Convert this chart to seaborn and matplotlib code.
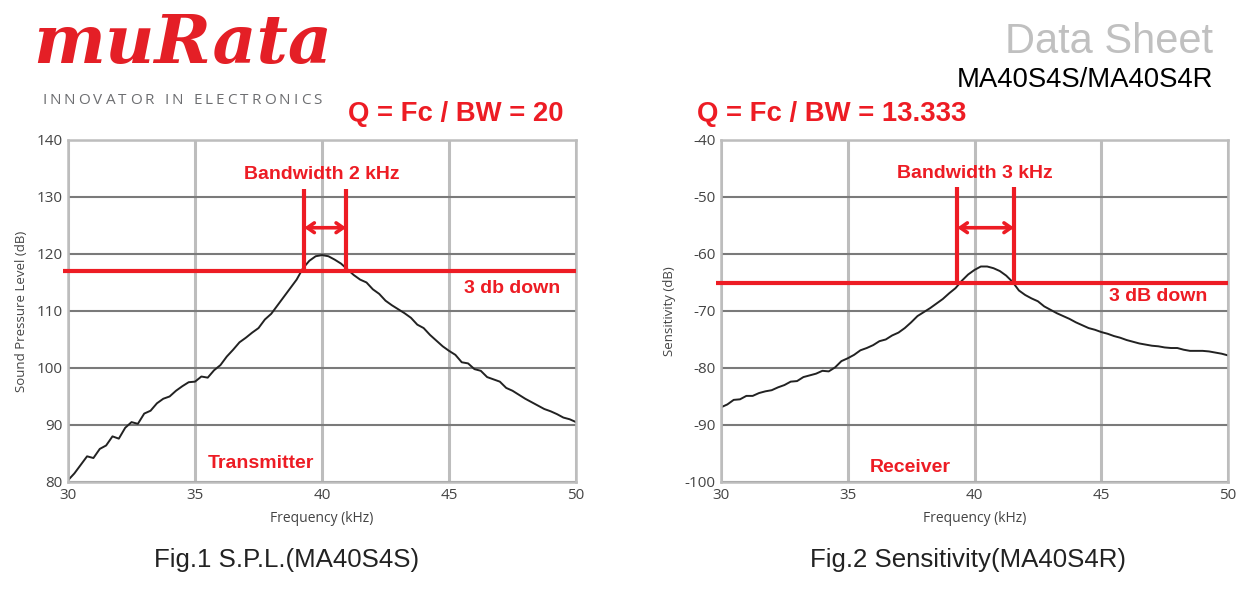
import numpy as np
import pandas as pd
import matplotlib
matplotlib.use("Agg")
import matplotlib.pyplot as plt
import seaborn as sns

# frequency axis (kHz), 0.25 kHz steps
freq = [30 + 0.25 * i for i in range(81)]

# Fig.1 transmitter sound pressure level (dB)
spl = [80.3, 81.5, 83.0, 84.5, 84.2, 85.8, 86.4, 88.0, 87.6, 89.5,
       90.5, 90.2, 92.0, 92.5, 93.8, 94.6, 95.0, 96.0, 96.8, 97.5,
       97.6, 98.5, 98.3, 99.6, 100.5, 102.0, 103.2, 104.5, 105.3, 106.2,
       107.0, 108.5, 109.5, 111.0, 112.5, 114.0, 115.5, 117.5, 118.8, 119.6,
       119.8, 119.6, 119.0, 118.3, 117.3, 116.3, 115.5, 115.0, 113.8, 113.0,
       111.8, 111.0, 110.3, 109.6, 108.8, 107.6, 107.0, 105.8, 104.8, 103.8,
       103.0, 102.3, 101.0, 100.8, 99.8, 99.5, 98.4, 98.0, 97.6, 96.5,
       96.0, 95.3, 94.6, 94.0, 93.4, 92.8, 92.4, 91.9, 91.3, 91.0, 90.5]

# Fig.2 receiver sensitivity (dB)
sens = [-86.9, -86.4, -85.6, -85.5, -84.9, -84.9, -84.4, -84.1, -83.9, -83.4,
        -83.0, -82.4, -82.3, -81.6, -81.3, -81.0, -80.5, -80.6, -79.9, -78.8,
        -78.3, -77.7, -76.9, -76.5, -76.0, -75.3, -75.0, -74.3, -73.8, -73.0,
        -72.0, -70.9, -70.2, -69.5, -68.7, -67.9, -66.9, -66.0, -64.7, -63.6,
        -62.8, -62.2, -62.2, -62.5, -63.0, -63.8, -64.9, -66.4, -67.2, -67.8,
        -68.3, -69.2, -69.8, -70.4, -70.9, -71.4, -72.0, -72.5, -73.0, -73.3,
        -73.7, -74.0, -74.4, -74.7, -75.1, -75.4, -75.7, -75.9, -76.1, -76.2,
        -76.4, -76.5, -76.5, -76.8, -77.0, -77.0, -77.0, -77.1, -77.3, -77.5, -77.8]

# annotation values
tx_level, tx_lo, tx_hi = 117.0, 39.3, 40.95
rx_level, rx_lo, rx_hi = -65.1, 39.32, 41.56

df_tx = pd.DataFrame({"freq": freq, "val": spl})
df_rx = pd.DataFrame({"freq": freq, "val": sens})

sns.set_style("white")
plt.rcParams["font.family"] = ["Open Sans", "DejaVu Sans"]
plt.rcParams["axes.unicode_minus"] = False

RED = "#ed1c24"
fig = plt.figure(figsize=(12.55, 5.9), dpi=100)

def style_axes(ax, ylim, ylabel):
    ax.set_xlim(30, 50)
    ax.set_ylim(*ylim)
    ax.set_xticks([30, 35, 40, 45, 50])
    ax.set_yticks(np.arange(ylim[0], ylim[1] + 1, 10))
    ax.xaxis.grid(True, color="#bdbdbd", linewidth=2.2)
    ax.yaxis.grid(True, color="#7a7a7a", linewidth=1.5)
    ax.set_axisbelow(True)
    for s in ax.spines.values():
        s.set_color("#bdbdbd")
        s.set_linewidth(1.8)
    ax.tick_params(axis="both", labelsize=11, colors="#444444", length=0)
    ax.tick_params(axis="x", pad=4)
    ax.tick_params(axis="y", pad=4)
    ax.set_xlabel("Frequency (kHz)", fontsize=10, color="#444444", labelpad=6)
    ax.set_ylabel(ylabel, fontsize=9.5, color="#444444", labelpad=6)

def annotate(ax, level, lo, hi, top, arrow_y, bw_text, bw_y, down_text, down_x, down_y, name, name_x, name_y):
    ax.hlines(level, 29.8, 50, color=RED, linewidth=3, clip_on=False, zorder=5)
    ax.vlines([lo, hi], level, top, color=RED, linewidth=3, zorder=5)
    ax.annotate("", xy=(hi, arrow_y), xytext=(lo, arrow_y),
                arrowprops=dict(arrowstyle="<->,head_length=0.5,head_width=0.35",
                                color=RED, lw=2.6, shrinkA=0, shrinkB=0), zorder=5)
    for txt, x, y in [(bw_text, 40.0, bw_y), (down_text, down_x, down_y), (name, name_x, name_y)]:
        ax.text(x, y, txt, color=RED, fontsize=14, fontweight="bold",
                family="Liberation Sans", ha="center", va="center")

ax1 = fig.add_axes([0.0542, 0.1831, 0.4048, 0.5797])
sns.lineplot(data=df_tx, x="freq", y="val", ax=ax1, color="#222222", linewidth=1.4)
style_axes(ax1, (80, 140), "Sound Pressure Level (dB)")
annotate(ax1, tx_level, tx_lo, tx_hi, 131.4, 124.6, "Bandwidth 2 kHz", 133.9,
         "3 db down", 47.5, 114.0, "Transmitter", 37.6, 83.3)

ax2 = fig.add_axes([0.5745, 0.1831, 0.4040, 0.5797])
sns.lineplot(data=df_rx, x="freq", y="val", ax=ax2, color="#222222", linewidth=1.4)
style_axes(ax2, (-100, -40), "Sensitivity (dB)")
annotate(ax2, rx_level, rx_lo, rx_hi, -48.2, -55.4, "Bandwidth 3 kHz", -45.8,
         "3 dB down", 47.24, -67.5, "Receiver", 37.45, -97.4)

# header: logo and tag line (tag line is letter-spaced, placed char by char)
fig.text(183 / 1255, 1 - 44 / 590, "muRata", color="#e41f26", fontsize=49,
         fontweight="bold", style="italic", family="DejaVu Serif", ha="center", va="center")
tagline = "INNOVATOR IN ELECTRONICS"
renderer = fig.canvas.get_renderer()
x_px = 42
for ch in tagline:
    t = fig.text(x_px / 1255, 1 - 100 / 590, ch, color="#6d6e71", fontsize=11,
                 family="Open Sans", ha="left", va="center")
    w = t.get_window_extent(renderer).width if ch != " " else 4
    x_px += w + 3.1

fig.text(1213 / 1255, 1 - 42 / 590, "Data Sheet", color="#c0c0c0", fontsize=30,
         family="Liberation Sans", ha="right", va="center")
fig.text(1213 / 1255, 1 - 80 / 590, "MA40S4S/MA40S4R", color="#000000", fontsize=19.8,
         family="Liberation Sans", ha="right", va="center")
fig.text(348 / 1255, 1 - 114 / 590, "Q = Fc / BW = 20", color=RED, fontsize=19.8,
         fontweight="bold", family="Liberation Sans", ha="left", va="center")
fig.text(697 / 1255, 1 - 114 / 590, "Q = Fc / BW = 13.333", color=RED, fontsize=19.8,
         fontweight="bold", family="Liberation Sans", ha="left", va="center")
fig.text(287 / 1255, 1 - 560 / 590, "Fig.1 S.P.L.(MA40S4S)", color="#222222", fontsize=18.6,
         family="Liberation Sans", ha="center", va="center")
fig.text(968 / 1255, 1 - 560 / 590, "Fig.2 Sensitivity(MA40S4R)", color="#222222", fontsize=18.6,
         family="Liberation Sans", ha="center", va="center")

fig.savefig("out.png", dpi=100)
